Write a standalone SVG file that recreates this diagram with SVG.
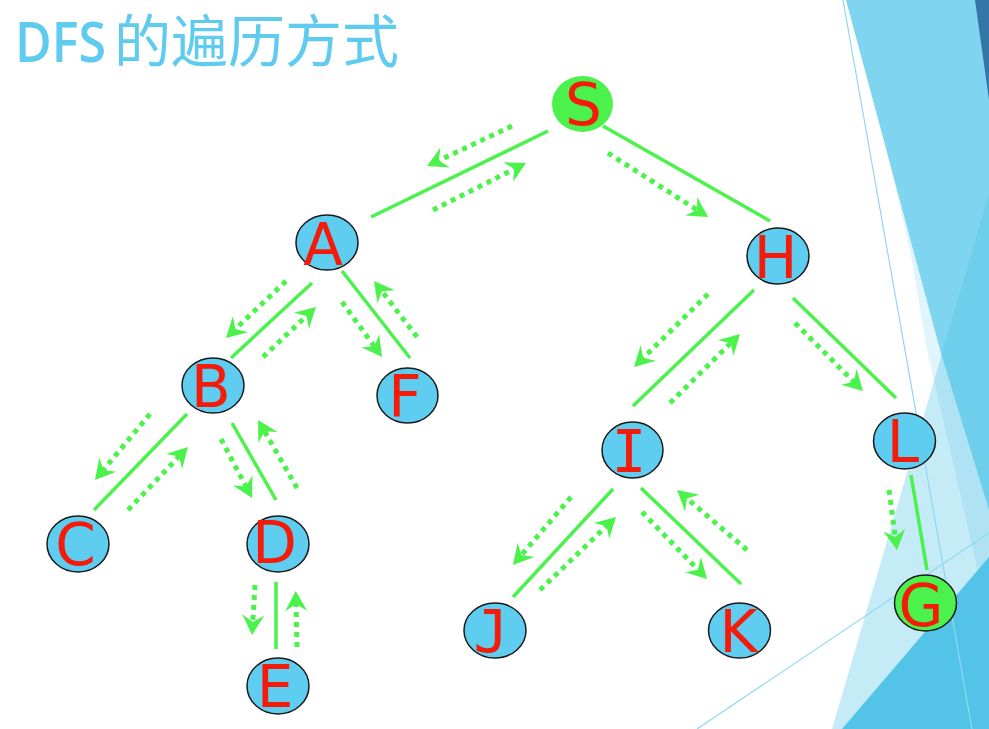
<svg xmlns="http://www.w3.org/2000/svg" width="989" height="729" viewBox="0 0 989 729">
<style>
.edge{stroke:#4cf24c;stroke-width:3.5;fill:none}
.trav{stroke:#4cf24c;stroke-width:5;stroke-dasharray:5 5;fill:none;marker-end:url(#ah)}
.nb{fill:#5fcdef;stroke:#1a1a1a;stroke-width:1.5}
.ng{fill:#4cf24c;stroke:#1a1a1a;stroke-width:1.5}
.lbl{font-family:"DejaVu Sans",Verdana,sans-serif;font-size:58px;fill:#f51b0b;text-anchor:middle}
.mono{font-family:"DejaVu Sans Mono",monospace}
.thin{stroke:#8fd8f3;stroke-width:1.2;fill:none}
</style>
<defs>
<marker id="ah" viewBox="-8 -12 22 24" refX="0" refY="0" markerWidth="22" markerHeight="24" markerUnits="userSpaceOnUse" orient="auto">
<path d="M13,0 L-7,-11 L0,0 L-7,11 Z" fill="#4cf24c"/>
</marker>
</defs>
<rect width="989" height="729" fill="#ffffff"/>
<g id="background">
<polygon points="846,0 887,150 910,250 927,350 957,480 989,620 989,0" fill="#4fc3e8" fill-opacity="0.18"/>
<polygon points="846,0 989,0 989,510 942,357" fill="#4fc3e8" fill-opacity="0.67"/>
<polygon points="989,193 832,729 989,729" fill="#4fc3e8" fill-opacity="0.33"/>
<polygon points="842,729 989,557 989,729" fill="#53c4e8"/>
<polygon points="975,0 989,0 989,100" fill="#3576a8"/>
<line class="thin" x1="843" y1="0" x2="972" y2="729"/>
<line class="thin" x1="697" y1="729" x2="989" y2="533"/>
</g>
<g id="title">
<text x="15" y="62" font-family="'Open Sans',sans-serif" font-weight="600" font-size="56" fill="#5ecbef" textLength="91" lengthAdjust="spacingAndGlyphs">DFS</text>
<text x="114" y="62" font-family="'Noto Sans CJK SC',sans-serif" font-size="57" fill="#5ecbef">的遍历方式</text>
</g>
<g id="connectors">
<line class="edge" x1="371" y1="217" x2="548" y2="131"/>
<line class="edge" x1="603" y1="126" x2="770" y2="221"/>
<line class="edge" x1="231" y1="358" x2="312" y2="283"/>
<line class="edge" x1="342" y1="271" x2="410" y2="358"/>
<line class="edge" x1="94" y1="510" x2="187" y2="414"/>
<line class="edge" x1="232" y1="423" x2="276" y2="500"/>
<line class="edge" x1="276" y1="582" x2="276" y2="649"/>
<line class="edge" x1="633" y1="406" x2="754" y2="290"/>
<line class="edge" x1="793" y1="298" x2="896" y2="398"/>
<line class="edge" x1="513" y1="597" x2="613" y2="489"/>
<line class="edge" x1="641" y1="488" x2="741" y2="584"/>
<line class="edge" x1="911" y1="475" x2="927" y2="570"/>
<line class="trav" x1="512" y1="126" x2="438.8" y2="160.5"/>
<line class="trav" x1="433" y1="210" x2="514.4" y2="168.9"/>
<line class="trav" x1="608" y1="153" x2="697.1" y2="210"/>
<line class="trav" x1="286" y1="281" x2="235.4" y2="329"/>
<line class="trav" x1="263" y1="357" x2="306.5" y2="315.9"/>
<line class="trav" x1="342" y1="302" x2="374.4" y2="346.5"/>
<line class="trav" x1="417" y1="337" x2="381.9" y2="291.3"/>
<line class="trav" x1="150" y1="414" x2="103.3" y2="470"/>
<line class="trav" x1="128" y1="510" x2="179" y2="456.4"/>
<line class="trav" x1="221" y1="439" x2="246" y2="486.5"/>
<line class="trav" x1="297" y1="488" x2="264.5" y2="431.3"/>
<line class="trav" x1="255" y1="585" x2="252.8" y2="622"/>
<line class="trav" x1="297" y1="647" x2="296" y2="604"/>
<line class="trav" x1="708" y1="294" x2="643.3" y2="357.9"/>
<line class="trav" x1="670" y1="403" x2="730.7" y2="343.1"/>
<line class="trav" x1="795" y1="323" x2="853.8" y2="381.8"/>
<line class="trav" x1="571" y1="497" x2="521.4" y2="555.1"/>
<line class="trav" x1="540" y1="590" x2="606.6" y2="526"/>
<line class="trav" x1="642" y1="512" x2="697.9" y2="569.7"/>
<line class="trav" x1="747" y1="550" x2="686.9" y2="498.5"/>
<line class="trav" x1="889" y1="490" x2="895.3" y2="537.1"/>
</g>
<g id="node-S"><ellipse cx="582.5" cy="104" rx="30.5" ry="28" fill="#4cf24c"/><text class="lbl" x="583.5" y="125">S</text></g>
<g id="node-A"><ellipse class="nb" cx="327" cy="242.5" rx="31" ry="27.5"/><text class="lbl" x="323" y="265">A</text></g>
<g id="node-H"><ellipse class="nb" cx="778" cy="256" rx="31" ry="28"/><text class="lbl" x="775.5" y="278">H</text></g>
<g id="node-B"><ellipse class="nb" cx="213" cy="385.5" rx="31" ry="27.5"/><text class="lbl" x="211" y="407">B</text></g>
<g id="node-F"><ellipse class="nb" cx="407.5" cy="395.5" rx="30.5" ry="27.5"/><text class="lbl" x="405" y="417">F</text></g>
<g id="node-C"><ellipse class="nb" cx="78" cy="544" rx="31" ry="28"/><text class="lbl" x="75.5" y="565">C</text></g>
<g id="node-D"><ellipse class="nb" cx="278" cy="544" rx="31" ry="28"/><text class="lbl" x="274.5" y="563">D</text></g>
<g id="node-E"><ellipse class="nb" cx="278" cy="686" rx="31" ry="28"/><text class="lbl" x="275" y="707">E</text></g>
<g id="node-I"><ellipse class="nb" cx="632.5" cy="450" rx="30.5" ry="28"/><text class="lbl mono" x="629" y="472">I</text></g>
<g id="node-J"><ellipse class="nb" cx="495" cy="630.5" rx="31" ry="27.5"/><text class="lbl mono" x="491" y="652">J</text></g>
<g id="node-K"><ellipse class="nb" cx="739.5" cy="630.5" rx="31" ry="27.5"/><text class="lbl" x="738.5" y="652">K</text></g>
<g id="node-L"><ellipse class="nb" cx="904.5" cy="441" rx="31" ry="28"/><text class="lbl" x="903" y="462">L</text></g>
<g id="node-G"><ellipse class="ng" cx="925.5" cy="603" rx="31" ry="28"/><text class="lbl" x="921" y="626">G</text></g>
</svg>
